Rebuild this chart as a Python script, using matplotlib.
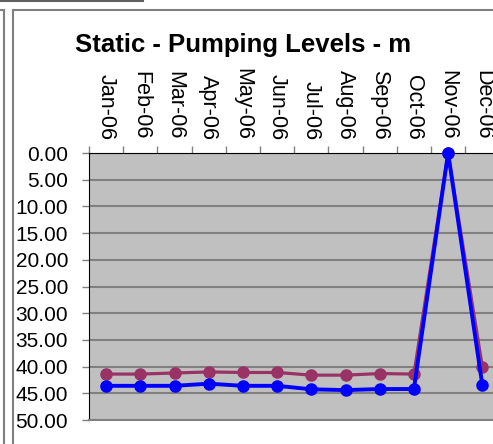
import numpy as np
import matplotlib
matplotlib.use("Agg")
import matplotlib.pyplot as plt
from matplotlib.lines import Line2D
from matplotlib.ticker import FormatStrFormatter

plt.rcParams['font.family'] = ['Liberation Sans', 'DejaVu Sans']

months = ['Jan-06', 'Feb-06', 'Mar-06', 'Apr-06', 'May-06', 'Jun-06',
          'Jul-06', 'Aug-06', 'Sep-06', 'Oct-06', 'Nov-06', 'Dec-06']
static_lvl = [41.4, 41.4, 41.2, 41.0, 41.1, 41.1, 41.6, 41.6, 41.3, 41.4, 0.0, 40.0]
pumping_lvl = [43.6, 43.6, 43.6, 43.2, 43.6, 43.6, 44.25, 44.4, 44.2, 44.2, 0.0, 43.4]

W, H = 493, 444
fig = plt.figure(figsize=(W / 100, H / 100), dpi=100)

# plot area in pixels: left 89, top 153, bottom 420, spacing 34.2 px per month
left, top, bot = 89, 153, 420
right = left + 12 * 34.2
ax = fig.add_axes([left / W, (H - bot) / H, (right - left) / W, (bot - top) / H])
ax.set_facecolor('#c0c0c0')

x = np.arange(len(months))
ax.plot(x, static_lvl, color='#993366', lw=2.3, marker='o', ms=8, zorder=3, clip_on=False)
ax.plot(x, pumping_lvl, color='#0000ff', lw=2.8, marker='o', ms=8, zorder=4, clip_on=False)

ax.set_xlim(-0.5, 11.5)
ax.set_ylim(50, 0)
ax.set_yticks(np.arange(0, 51, 5))
ax.yaxis.set_major_formatter(FormatStrFormatter('%.2f'))
ax.grid(axis='y', color='#808080', lw=1.5)
ax.set_axisbelow(True)

ax.xaxis.tick_top()
ax.set_xticks(x)
ax.set_xticklabels(months, rotation=270)
ax.set_xticks(np.arange(-0.5, 12, 1), minor=True)
ax.tick_params(axis='x', which='major', length=0, pad=9.5, labelsize=15.5)
ax.tick_params(axis='x', which='minor', length=5, width=1, color='#808080', top=True, bottom=False)
ax.tick_params(axis='y', length=5, width=1, color='#808080', labelsize=15, pad=10)

ax.spines['top'].set_color('black')
ax.spines['left'].set_color('black')
ax.spines['bottom'].set_color('#808080')
ax.spines['bottom'].set_linewidth(1.5)
ax.spines['right'].set_visible(False)

fig.text(243 / W, 1 - 45 / H, 'Static - Pumping Levels - m', ha='center', va='center',
         fontsize=18.5, fontweight='bold')

# worksheet / chart borders
def px_line(xs, ys, color='#808080', lw=1.5):
    fig.add_artist(Line2D([v / W for v in xs], [1 - v / H for v in ys],
                          color=color, lw=lw, transform=fig.transFigure))

px_line([0, 143], [1.5, 1.5], color='#606060')
px_line([0, 3.5], [10.5, 10.5])
px_line([3.5, 3.5], [10.5, H])
px_line([12.5, W], [10.5, 10.5])
px_line([12.5, 12.5], [10.5, H])

fig.savefig('out.png', dpi=100)
